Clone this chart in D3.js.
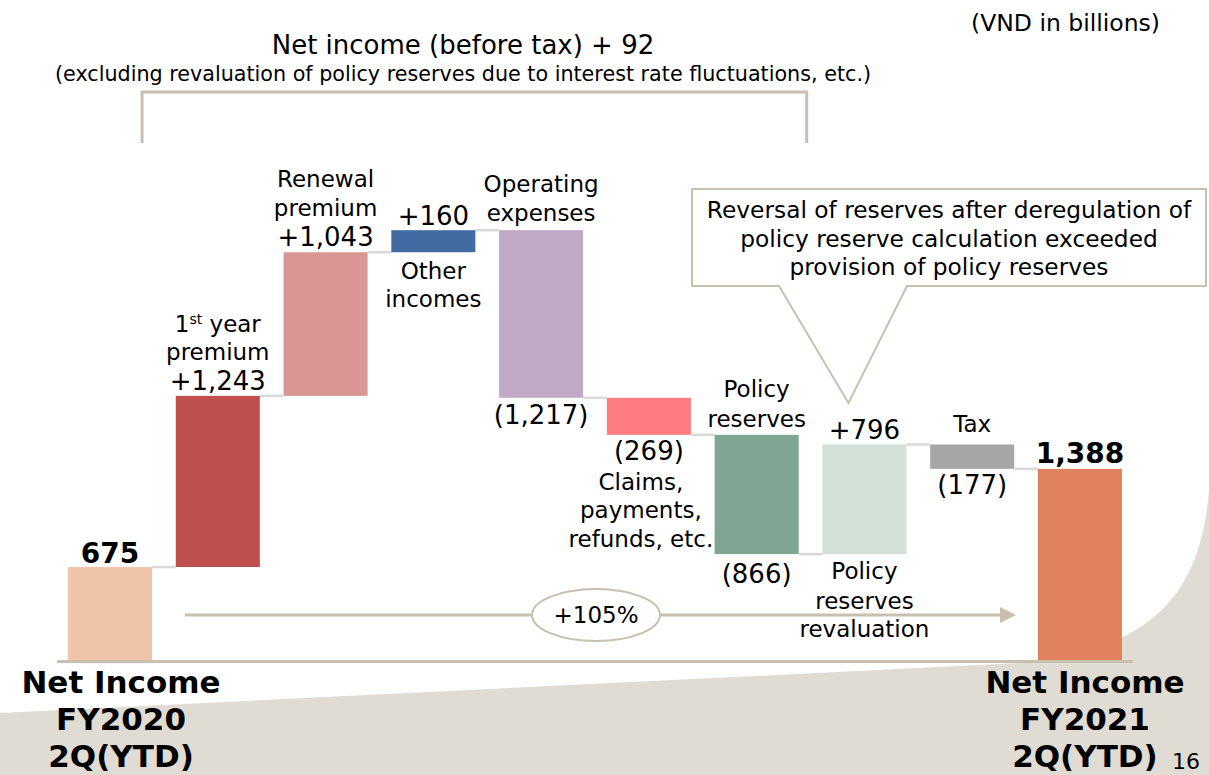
<!DOCTYPE html>
<html>
<head>
<meta charset="utf-8">
<script src="https://cdn.jsdelivr.net/npm/d3@7"></script>
<style>
  body { margin: 0; background: #fff; }
  text { font-family: "DejaVu Sans", Verdana, sans-serif; fill: #000; }
</style>
</head>
<body>
<div id="chart"></div>
<script>
// waterfall data (VND in billions)
var categories = ["FY2020", "FirstYear", "Renewal", "Other", "OpEx", "Claims", "Reserves", "Revaluation", "Tax", "FY2021"];
var values = [675, 1243, 1043, 160, -1217, -269, -866, 796, -177, 1388];
var isTotal = [true, false, false, false, false, false, false, false, false, true];
var valueLabels = ["675", "+1,243", "+1,043", "+160", "(1,217)", "(269)", "(866)", "+796", "(177)", "1,388"];
var colors = ["#f0c4a9", "#c0504d", "#d99694", "#406ca3", "#bfa9c4", "#ff7c80", "#7fa693", "#d3e0d8", "#a6a6a6", "#e0825e"];

var width = 1209, height = 775;

var svg = d3.select("#chart").append("svg")
    .attr("width", width)
    .attr("height", height);

// beige background shape at the bottom
svg.append("path")
    .attr("d", "M0,713 L1040,662 C1135,645 1200,610 1209,490 L1209,775 L0,775 Z")
    .style("fill", "#e0dcd4");

var x = d3.scaleBand()
    .domain(categories)
    .range([68, 1122])
    .paddingInner(0.22)
    .paddingOuter(0);

var y = d3.scaleLinear()
    .domain([0, 3500])
    .range([660, 178]);

// compute start / end of each step
var running = 0;
var bars = categories.map(function(c, i) {
  var start, end;
  if (isTotal[i]) { start = 0; end = values[i]; running = values[i]; }
  else { start = running; end = running + values[i]; running = end; }
  return { cat: c, start: start, end: end, color: colors[i], label: valueLabels[i], i: i };
});

var bw = x.bandwidth();

// connector lines
var g = svg.append("g");
g.selectAll("line.conn")
    .data(bars.slice(0, -1))
    .enter()
    .append("line")
    .attr("class", "conn")
    .attr("x1", d => x(d.cat) + bw)
    .attr("x2", (d, i) => x(bars[i + 1].cat))
    .attr("y1", d => y(d.end))
    .attr("y2", d => y(d.end))
    .style("stroke", "#d9d9d9")
    .style("stroke-width", 2.5);

// bars
g.selectAll("rect")
    .data(bars)
    .enter()
    .append("rect")
    .attr("x", d => x(d.cat))
    .attr("width", bw)
    .attr("y", d => y(Math.max(d.start, d.end)))
    .attr("height", d => Math.abs(y(d.start) - y(d.end)))
    .style("fill", d => d.color);

// baseline
svg.append("line")
    .attr("x1", 57).attr("x2", 1133)
    .attr("y1", y(0) + 1.5).attr("y2", y(0) + 1.5)
    .style("stroke", "#c8c0af")
    .style("stroke-width", 3);

// labels: above = offset from bar top, below = offset from bar bottom
// each entry [text, size, bold, dy, dx]
var annot = [
  { above: [["675", 28, true, -4]], below: [] },
  { above: [["1st year", 23, false, -64], ["premium", 23, false, -36], ["+1,243", 26, false, -6]], below: [] },
  { above: [["Renewal", 23, false, -65], ["premium", 23, false, -36], ["+1,043", 26, false, -6]], below: [] },
  { above: [["+160", 26, false, -5]], below: [["Other", 23, false, 27], ["incomes", 23, false, 55]] },
  { above: [["Operating", 23, false, -38], ["expenses", 23, false, -9]], below: [["(1,217)", 26, false, 26]] },
  { above: [], below: [["(269)", 26, false, 25], ["Claims,", 23, false, 55, -8], ["payments,", 23, false, 83, -8], ["refunds, etc.", 23, false, 112, -8]] },
  { above: [["Policy", 23, false, -38], ["reserves", 23, false, -8]], below: [["(866)", 26, false, 29]] },
  { above: [["+796", 26, false, -5]], below: [["Policy", 23, false, 25], ["reserves", 23, false, 55], ["revaluation", 23, false, 83]] },
  { above: [["Tax", 23, false, -12]], below: [["(177)", 26, false, 25]] },
  { above: [["1,388", 28, true, -6]], below: [] }
];

var labels = [];
bars.forEach(function(d, i) {
  var top = y(Math.max(d.start, d.end)), bot = y(Math.min(d.start, d.end));
  var cx = x(d.cat) + bw / 2;
  annot[i].above.forEach(function(a) { labels.push({ t: a[0], s: a[1], b: a[2], x: cx + (a[4] || 0), y: top + a[3] }); });
  annot[i].below.forEach(function(a) { labels.push({ t: a[0], s: a[1], b: a[2], x: cx + (a[4] || 0), y: bot + a[3] }); });
});

var lab = svg.selectAll("text.lab")
    .data(labels)
    .enter()
    .append("text")
    .attr("class", "lab")
    .attr("x", d => d.x)
    .attr("y", d => d.y)
    .attr("text-anchor", "middle")
    .style("font-size", d => d.s + "px")
    .style("font-weight", d => d.b ? "bold" : "normal");

lab.each(function(d) {
  var t = d3.select(this);
  if (d.t === "1st year") {
    t.append("tspan").text("1");
    t.append("tspan").text("st").attr("dy", -8).style("font-size", "14px");
    t.append("tspan").text(" year").attr("dy", 8);
  } else {
    t.text(d.t);
  }
});

// category names under the two totals
var totalNames = ["Net Income", "FY2020", "2Q(YTD)"];
var totalNames2 = ["Net Income", "FY2021", "2Q(YTD)"];
[[categories[0], totalNames, 11], [categories[9], totalNames2, 5]].forEach(function(p) {
  svg.selectAll(null)
      .data(p[1])
      .enter()
      .append("text")
      .attr("x", x(p[0]) + bw / 2 + p[2])
      .attr("y", (d, i) => 693 + i * 37)
      .attr("text-anchor", "middle")
      .style("font-size", "31px")
      .style("font-weight", "bold")
      .text(d => d);
});

// headers
svg.append("text").attr("x", 1160).attr("y", 31).attr("text-anchor", "end")
    .style("font-size", "23.5px").text("(VND in billions)");
svg.append("text").attr("x", 463).attr("y", 54).attr("text-anchor", "middle")
    .style("font-size", "26px").text("Net income (before tax) + 92");
svg.append("text").attr("x", 463).attr("y", 81).attr("text-anchor", "middle")
    .style("font-size", "20.7px").text("(excluding revaluation of policy reserves due to interest rate fluctuations, etc.)");

// bracket over the pre-tax items
var bl = x(categories[0]) + bw - 10, br = x(categories[6]) + bw + 8;
svg.append("path")
    .attr("d", "M" + bl + ",143 L" + bl + ",92 L" + br + ",92 L" + br + ",143")
    .style("fill", "none")
    .style("stroke", "#c8c0af")
    .style("stroke-width", 3);

// callout
var tipX = x(categories[7]) + bw / 2 - 16;
svg.append("path")
    .attr("d", "M692,189 L1206,189 L1206,286 L907,286 L" + tipX + ",403 L779,286 L692,286 Z")
    .style("fill", "#fff")
    .style("stroke", "#c8c0af")
    .style("stroke-width", 2);
svg.selectAll(null)
    .data(["Reversal of reserves after deregulation of", "policy reserve calculation exceeded", "provision of policy reserves"])
    .enter()
    .append("text")
    .attr("x", 949)
    .attr("y", (d, i) => 218 + i * 28.5)
    .attr("text-anchor", "middle")
    .style("font-size", "23.3px")
    .text(d => d);

// growth arrow
svg.append("line")
    .attr("x1", 185).attr("x2", 1001)
    .attr("y1", 615).attr("y2", 615)
    .style("stroke", "#c8c0af")
    .style("stroke-width", 3);
svg.append("path")
    .attr("d", "M1000,607 L1016,615 L1000,623 Z")
    .style("fill", "#c8c0af");
svg.append("ellipse")
    .attr("cx", 596).attr("cy", 615).attr("rx", 64).attr("ry", 26)
    .style("fill", "#fff")
    .style("stroke", "#c8c0af")
    .style("stroke-width", 2);
svg.append("text").attr("x", 596).attr("y", 623).attr("text-anchor", "middle")
    .style("font-size", "23px").text("+105%");

// page number
svg.append("text").attr("x", 1172).attr("y", 769).style("font-size", "22px").text("16");
</script>
</body>
</html>
